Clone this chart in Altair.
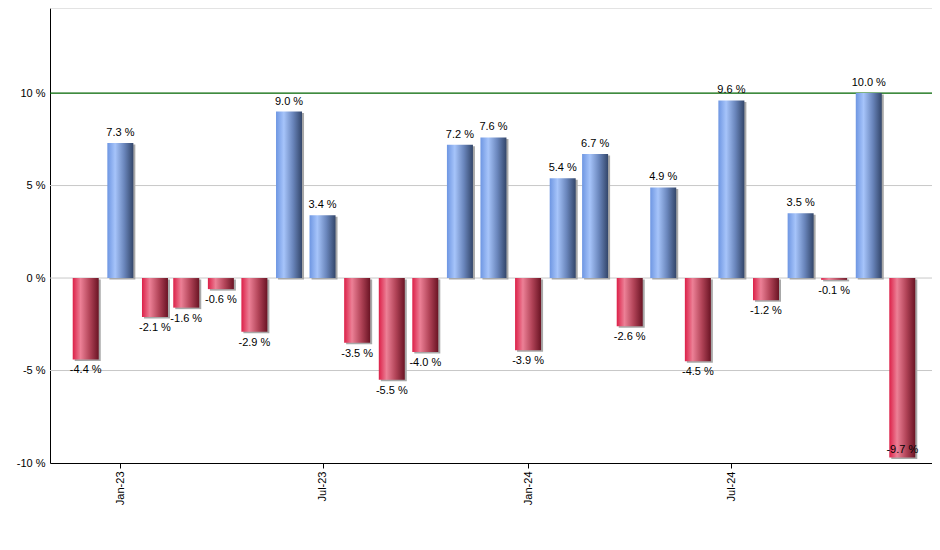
import altair as alt
import pandas as pd

# Monthly returns, Dec-22 .. Dec-24
months = ["2022-12-01", "2023-01-01", "2023-02-01", "2023-03-01", "2023-04-01",
          "2023-05-01", "2023-06-01", "2023-07-01", "2023-08-01", "2023-09-01",
          "2023-10-01", "2023-11-01", "2023-12-01", "2024-01-01", "2024-02-01",
          "2024-03-01", "2024-04-01", "2024-05-01", "2024-06-01", "2024-07-01",
          "2024-08-01", "2024-09-01", "2024-10-01", "2024-11-01", "2024-12-01"]
returns = [-4.4, 7.3, -2.1, -1.6, -0.6, -2.9, 9.0, 3.4, -3.5, -5.5, -4.0, 7.2,
           7.6, -3.9, 5.4, 6.7, -2.6, 4.9, -4.5, 9.6, -1.2, 3.5, -0.1, 10.0, -9.7]
y_ticks = [-10, -5, 0, 5, 10]
y_top = 14.6
grid_levels = [-5, 0, 5, y_top]
highlight_level = [10]

df = pd.DataFrame({"month": months, "ret": returns})
df["label"] = [f"{v:.1f} %" for v in returns]

FONT = "Liberation Sans"
FS = 11

x_enc = alt.X(
    "month:T",
    scale=alt.Scale(type="utc",
                    domain=[alt.DateTime(year=2022, month=11, date=3, hours=12, utc=True),
                            alt.DateTime(year=2024, month=12, date=23, hours=3, utc=True)]),
    axis=alt.Axis(
        values=[alt.DateTime(year=2023, month=1, date=1, utc=True),
                alt.DateTime(year=2023, month=7, date=1, utc=True),
                alt.DateTime(year=2024, month=1, date=1, utc=True),
                alt.DateTime(year=2024, month=7, date=1, utc=True)],
        labelExpr="utcFormat(datum.value, '%b-%y')",
        labelAngle=-90, labelAlign="right", labelBaseline="middle",
        labelFont=FONT, labelFontSize=FS, labelColor="black", labelPadding=3,
        domainColor="black", tickColor="black", tickSize=5,
        grid=False, title=None),
)
y_scale = alt.Scale(domain=[-10, y_top], nice=False, zero=False)
y_enc = alt.Y(
    "ret:Q", scale=y_scale,
    axis=alt.Axis(values=y_ticks, labelExpr="datum.value + ' %'",
                  labelFont=FONT, labelFontSize=FS, labelColor="black",
                  ticks=False, labelPadding=5, domainColor="black",
                  grid=False, title=None),
)

blue_grad = alt.LinearGradient(
    gradient="linear", x1=0, x2=1, y1=0, y2=0,
    stops=[alt.GradientStop(offset=0, color="#6e96e2"),
           alt.GradientStop(offset=0.3, color="#a6c4fa"),
           alt.GradientStop(offset=0.65, color="#6a86bc"),
           alt.GradientStop(offset=1, color="#33466a")])
red_grad = alt.LinearGradient(
    gradient="linear", x1=0, x2=1, y1=0, y2=0,
    stops=[alt.GradientStop(offset=0, color="#dc2048"),
           alt.GradientStop(offset=0.3, color="#ec8096"),
           alt.GradientStop(offset=0.65, color="#b24458"),
           alt.GradientStop(offset=1, color="#6a1424")])

base = alt.Chart(df).encode(x=x_enc, y=y_enc)

grid = alt.Chart(pd.DataFrame({"g": grid_levels})).mark_rule(
    color="#c8c8c8", strokeWidth=1
).encode(y=alt.Y("g:Q", scale=y_scale))
green = alt.Chart(pd.DataFrame({"g": highlight_level})).mark_rule(
    color="#006400", strokeWidth=1.3
).encode(y=alt.Y("g:Q", scale=y_scale))

BW = 26
shadow = base.mark_bar(width=BW, color="#a8a8a8", xOffset=2, yOffset=1.5)
pos_bars = base.transform_filter("datum.ret >= 0").mark_bar(width=BW, color=blue_grad)
neg_bars = base.transform_filter("datum.ret < 0").mark_bar(width=BW, color=red_grad)

txt = dict(font=FONT, fontSize=FS, color="black")
lab_pos = base.transform_filter("datum.ret >= 0").mark_text(
    baseline="bottom", dy=-5, **txt).encode(text="label:N")
lab_neg = base.transform_filter("datum.ret < 0 && datum.ret > -9").mark_text(
    baseline="top", dy=5, **txt).encode(text="label:N")
lab_in = base.transform_filter("datum.ret <= -9").mark_text(
    baseline="bottom", dy=-2, **txt).encode(text="label:N")

chart = alt.layer(grid, green, shadow, pos_bars, neg_bars, lab_pos, lab_neg, lab_in).properties(
    width=882, height=455,
    autosize=alt.AutoSizeParams(type="none"),
    padding={"left": 42, "top": 0, "right": 0, "bottom": 80},
).configure_view(stroke=None)

chart.save("out.html", embed_options={"renderer": "svg", "actions": False})
